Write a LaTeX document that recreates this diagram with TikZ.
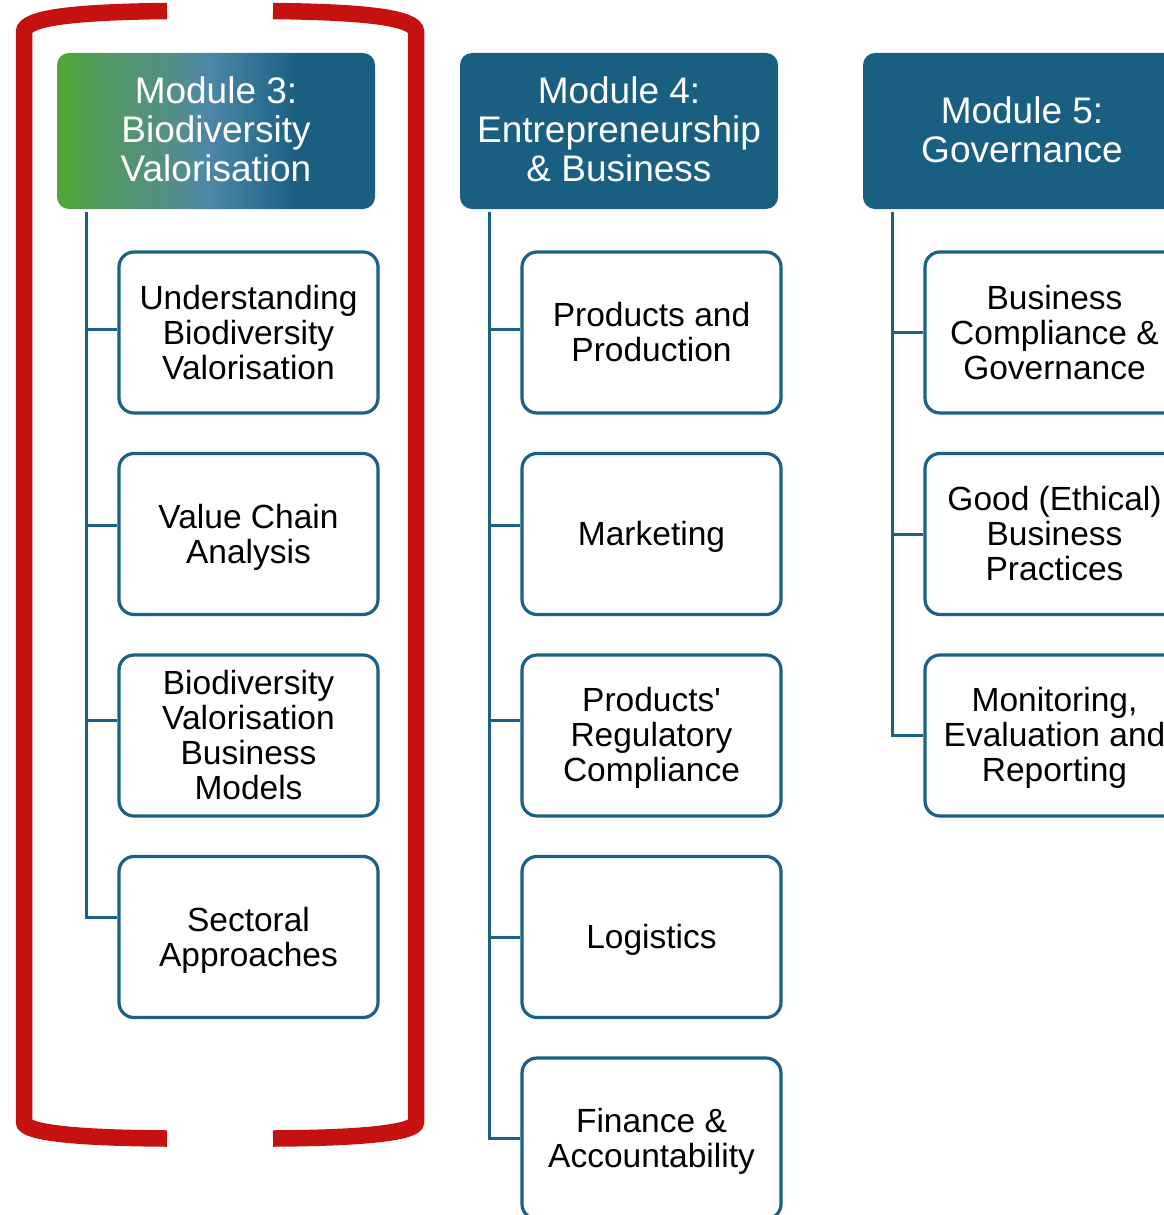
\documentclass[tikz,border=0pt]{standalone}
\usepackage{fontspec}
\setmainfont{Liberation Sans}[Ligatures=TeXOff]
\usetikzlibrary{calc}
\definecolor{dblue}{RGB}{25,95,129}
\definecolor{lblue}{RGB}{27,97,132}
\definecolor{gA}{RGB}{78,168,56}
\definecolor{gB}{RGB}{82,152,96}
\definecolor{gC}{RGB}{84,142,140}
\definecolor{gD}{RGB}{78,136,168}
\definecolor{bred}{RGB}{198,17,17}
\pgfdeclarehorizontalshading{mthree}{100bp}{color(0bp)=(gA); color(26bp)=(gA); color(32bp)=(gB); color(44bp)=(gC); color(48.5bp)=(gD); color(63bp)=(dblue); color(75bp)=(dblue); color(100bp)=(dblue)}
\newcommand{\dnstrut}{\rule{0pt}{30.5pt}}
\newcommand{\upstrut}{\rule[-4pt]{0pt}{4pt}}
\begin{document}
\begin{tikzpicture}[x=1pt,y=-1pt,
  hdr/.style={rounded corners=12pt, minimum width=318pt, minimum height=156pt, inner sep=0pt, text=white, align=center, font=\fontsize{37}{39}\selectfont},
  sub/.style={draw=lblue, line width=3.2pt, rounded corners=15pt, fill=white, minimum width=259pt, minimum height=161pt, inner sep=0pt, align=center, font=\fontsize{33.5}{35}\selectfont},
  conn/.style={draw=lblue, line width=3pt},
  bracket/.style={draw=bred, line width=16.5pt}]
\useasboundingbox (0,0) rectangle (1164,1215);
\clip (0,0) rectangle (1164,1215);
\fill[white] (0,0) rectangle (1164,1215);

% red bracket
\draw[bracket] (167,11) .. controls (80,12) and (24,17) .. (24,32) -- (24,1122) .. controls (24,1133) and (80,1138) .. (167,1138.5);
\draw[bracket] (273,11) .. controls (360,12) and (416,17) .. (416,32) -- (416,1122) .. controls (416,1133) and (360,1138) .. (273,1138.5);

% headers
\node[hdr, shading=mthree] (h3) at (216,131) {Module 3:\\Biodiversity\\Valorisation\upstrut};
\node[hdr, fill=dblue] (h4) at (619,131) {Module 4:\\Entrepreneurship\\\& Business\upstrut};
\node[hdr, fill=dblue] (h5) at (1022,131) {Module 5:\\Governance\rule[-2pt]{0pt}{2pt}};

% module 3 boxes
\node[sub] (b31) at (248.5,332.5) {Understanding\\Biodiversity\\Valorisation};
\node[sub] (b32) at (248.5,534) {\dnstrut Value Chain\\Analysis};
\node[sub] (b33) at (248.5,735.5) {Biodiversity\\Valorisation\\Business\\Models};
\node[sub] (b34) at (248.5,937) {\dnstrut Sectoral\\Approaches};

% module 4 boxes
\node[sub] (b41) at (651.5,332.5) {Products and\\Production};
\node[sub] (b42) at (651.5,534) {\dnstrut Marketing};
\node[sub] (b43) at (651.5,735.5) {\rule{0pt}{28.5pt}Products'\\Regulatory\\Compliance};
\node[sub] (b44) at (651.5,937) {\dnstrut Logistics};
\node[sub] (b45) at (651.5,1138.5) {\dnstrut Finance \&\\Accountability};

% module 5 boxes
\node[sub] (b51) at (1054.5,332.5) {Business\\Compliance \&\\Governance};
\node[sub] (b52) at (1054.5,534) {Good (Ethical)\\Business\\Practices};
\node[sub] (b53) at (1054.5,735.5) {\rule{0pt}{28.5pt}Monitoring,\\Evaluation and\\Reporting};

% trunks
\coordinate (t3) at ($(h3.south west)+(30,3)$);
\coordinate (t4) at ($(h4.south west)+(30,3)$);
\coordinate (t5) at ($(h5.south west)+(30,3)$);

% connectors module 3
\draw[conn] ([yshift=3.5pt]b31.west) -| (t3);
\draw[conn] ([yshift=9pt]b32.west) -| (t3);
\draw[conn] ([yshift=15.5pt]b33.west) -| (t3);
\draw[conn] ([yshift=20pt]b34.west) -| (t3);

% connectors module 4
\draw[conn] ([yshift=3.5pt]b41.west) -| (t4);
\draw[conn] ([yshift=9pt]b42.west) -| (t4);
\draw[conn] ([yshift=15.5pt]b43.west) -| (t4);
\draw[conn] (b44.west) -| (t4);
\draw[conn] (b45.west) -| (t4);

% connectors module 5
\draw[conn] (b51.west) -| (t5);
\draw[conn] (b52.west) -| (t5);
\draw[conn] (b53.west) -| (t5);
\end{tikzpicture}
\end{document}
